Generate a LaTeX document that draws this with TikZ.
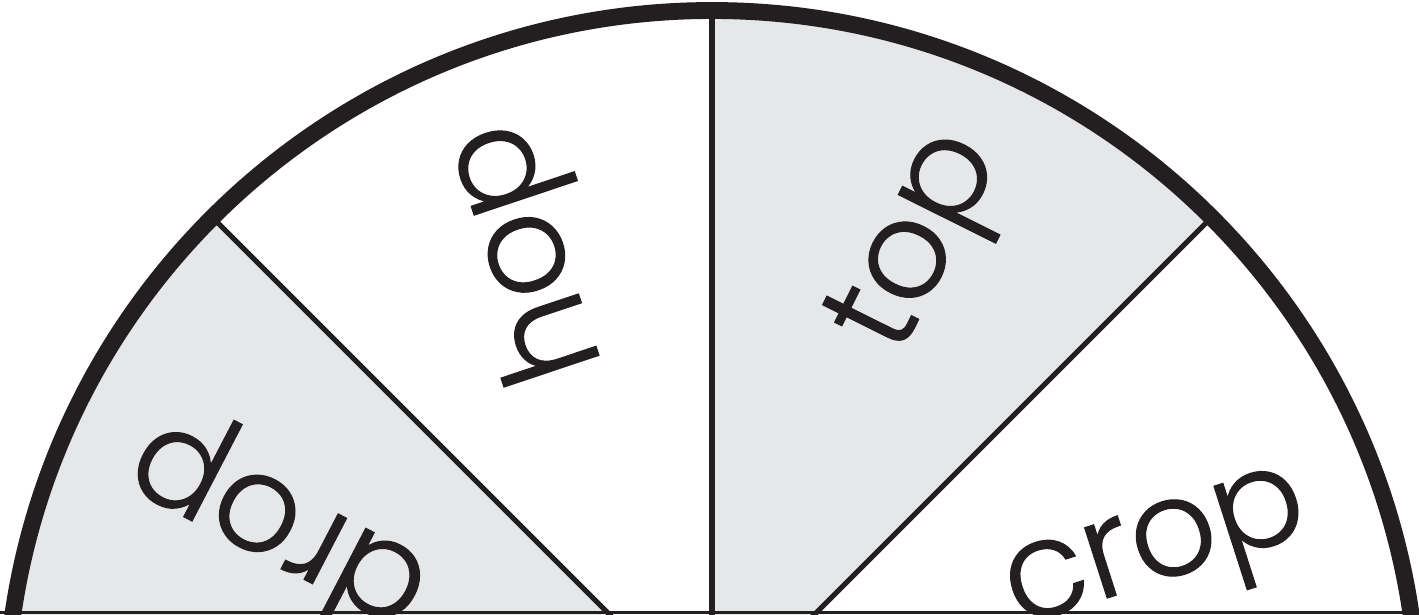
\documentclass[tikz,border=0pt]{standalone}
\usepackage{fontspec}
\newfontfamily\wheelfont{Poppins Light}[FakeBold=0.8]
\definecolor{wheelink}{HTML}{231F20}
\definecolor{wheelgray}{HTML}{E6E7E8}

\begin{document}
\begin{tikzpicture}[
    rim/.style={line width=4.8pt, draw=wheelink},
    spoke/.style={line width=1.5pt, draw=wheelink},
    word/.style={font=\wheelfont\fontsize{38.5}{40}\selectfont, text=wheelink, anchor=mid, inner sep=0pt}]
    \useasboundingbox (-7.12, 1.03) rectangle (7.07, 7.17);
    \clip (-7.12, 1.03) rectangle (7.07, 7.17);

    % shaded sectors
    \fill[wheelgray] (0,0) -- (45:7.065) arc (45:90:7.065) -- cycle;
    \fill[wheelgray] (0,0) -- (135:7.065) arc (135:180:7.065) -- cycle;

    % spokes
    \foreach \a in {45, 90, 135}
        \draw[spoke] (0,0) -- (\a:7.065);

    % words, reading outwards
    \node[word, rotate=17.8] (crop) at (17.8:4.74) {crop};
    \node[word, rotate=63.5] (top) at (63.5:5.18) {top};
    \node[word, rotate=108.5] (hop) at (108.5:5.0) {hop};
    \node[word, rotate=152.5] (drop) at (152.5:4.73) {drop};

    % rim and lower edge
    \draw[rim] (0:7.065) arc (0:180:7.065);
    \draw[line width=0.85pt, wheelink] (-7.12, 1.045) -- (7.07, 1.045);
\end{tikzpicture}
\end{document}
